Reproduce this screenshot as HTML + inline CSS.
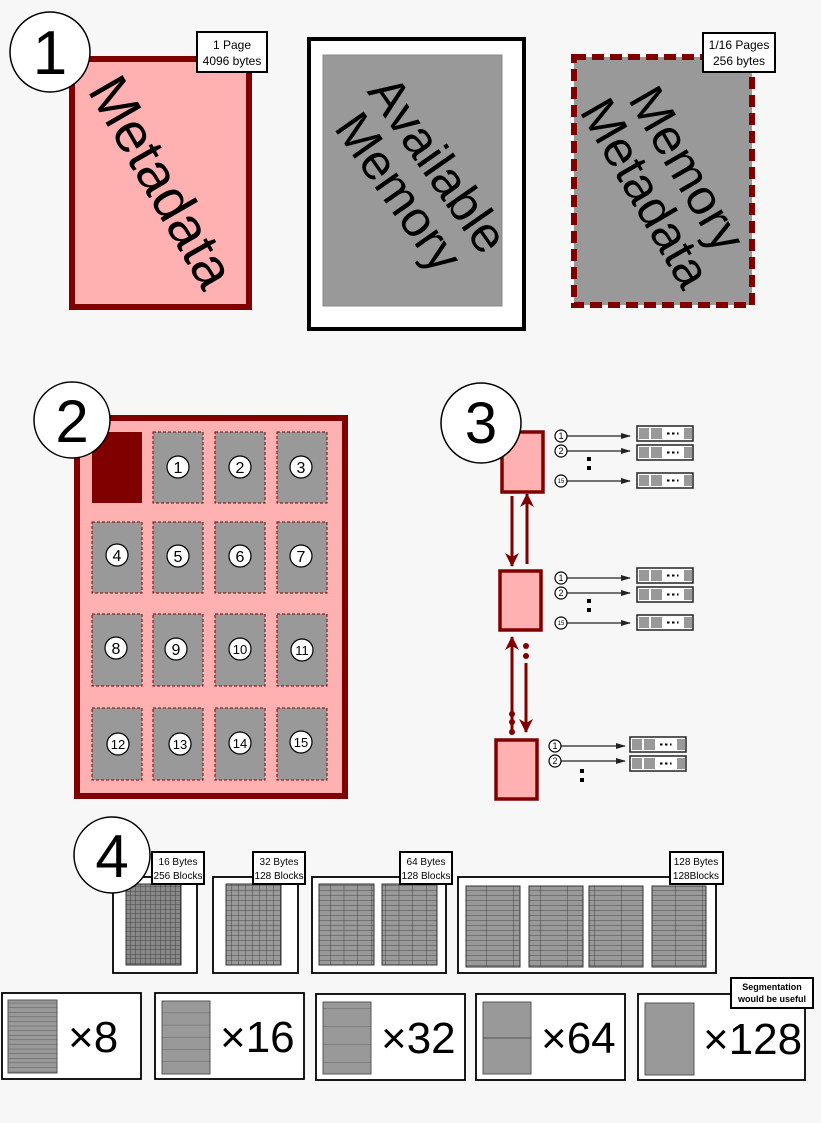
<!DOCTYPE html>
<html><head><meta charset="utf-8"><style>
html,body{margin:0;padding:0;background:#f7f7f7;}
svg{display:block;font-family:"Liberation Sans","DejaVu Sans",sans-serif;}
</style></head><body>
<svg width="821" height="1123" viewBox="0 0 821 1123" xmlns="http://www.w3.org/2000/svg">
<defs>
<pattern id="g16" width="5" height="4.5" patternUnits="userSpaceOnUse"><rect width="5" height="4.5" fill="#888"/><path d="M0 0H5M0 0V4.5" stroke="#333" stroke-width="0.8"/></pattern>
<pattern id="g32" width="7" height="5" patternUnits="userSpaceOnUse"><rect width="7" height="5" fill="#999"/><path d="M0 0H7M0 0V5" stroke="#333" stroke-width="0.8"/></pattern>
<pattern id="g64" width="13.75" height="5" patternUnits="userSpaceOnUse"><rect width="13.75" height="5" fill="#999"/><path d="M0 0H14M0 0V5" stroke="#333" stroke-width="0.8"/></pattern>
<pattern id="g128" width="27" height="5" patternUnits="userSpaceOnUse"><rect width="27" height="5" fill="#999"/><path d="M0 0H27M0 0V5" stroke="#333" stroke-width="0.8"/></pattern>
<pattern id="h8" width="49" height="4.6" patternUnits="userSpaceOnUse"><rect width="49" height="4.6" fill="#999"/><path d="M0 0H49" stroke="#555" stroke-width="1"/></pattern>
<pattern id="h16" width="48" height="12.2" patternUnits="userSpaceOnUse"><rect width="48" height="12.2" fill="#999"/><path d="M0 0H48" stroke="#666" stroke-width="1"/></pattern>
<pattern id="h32" width="48" height="18" patternUnits="userSpaceOnUse"><rect width="48" height="18" fill="#999"/><path d="M0 0H48" stroke="#666" stroke-width="1"/></pattern>
<marker id="ar" markerWidth="10" markerHeight="6" refX="9" refY="3" orient="auto" markerUnits="userSpaceOnUse"><path d="M0 0L10 3L0 6z" fill="#222"/></marker>
<marker id="rd" markerWidth="14" markerHeight="22" refX="13" refY="7" orient="auto" markerUnits="userSpaceOnUse"><path d="M0 0L14 7L0 14L4 7z" fill="#800000"/></marker>
<g id="bar"><rect x="0" y="0" width="56" height="15" fill="#fff" stroke="#222" stroke-width="1.5"/><rect x="2" y="2" width="10" height="11" fill="#999"/><rect x="14" y="2" width="11" height="11" fill="#999"/><rect x="47" y="2" width="8" height="11" fill="#999"/><rect x="30" y="6.5" width="2.5" height="2" fill="#000"/><rect x="35" y="6.5" width="2.5" height="2" fill="#000"/><rect x="40" y="6.5" width="1.5" height="2" fill="#000"/></g>
</defs>

<!-- Section 1 -->
<rect x="72" y="59" width="177" height="248" fill="#ffb0b0" stroke="#800000" stroke-width="6"/>
<text x="160" y="200" font-size="56" text-anchor="middle" transform="rotate(60 160 183)">Metadata</text>
<circle cx="50" cy="52" r="40" fill="#fff" stroke="#000" stroke-width="1.5"/>
<text x="50" y="74" font-size="62" text-anchor="middle">1</text>
<rect x="197" y="32" width="70" height="40" fill="#fff" stroke="#000" stroke-width="2"/>
<text x="232" y="49" font-size="12" text-anchor="middle">1 Page</text>
<text x="232" y="65" font-size="12" text-anchor="middle">4096 bytes</text>

<rect x="309" y="39" width="215" height="290" fill="#fff" stroke="#000" stroke-width="4"/>
<rect x="323" y="55" width="179" height="251" fill="#999" stroke="#888"/>
<g transform="rotate(55 416 180)" font-size="50" text-anchor="middle">
<text x="416" y="170">Available</text><text x="416" y="218">Memory</text></g>

<rect x="574" y="57" width="178" height="248" fill="#999" stroke="#800000" stroke-width="6" stroke-dasharray="12,6"/>
<g transform="rotate(60 663 183)" font-size="50" text-anchor="middle">
<text x="663" y="172">Memory</text><text x="663" y="220">Metadata</text></g>
<rect x="703" y="33" width="72" height="39" fill="#fff" stroke="#000" stroke-width="2"/>
<text x="739" y="49" font-size="12" text-anchor="middle">1/16 Pages</text>
<text x="739" y="65" font-size="12" text-anchor="middle">256 bytes</text>

<!-- Section 2 -->
<rect x="77" y="418" width="268" height="378" fill="#ffb0b0" stroke="#800000" stroke-width="6"/>
<rect x="92" y="432" width="50" height="71" fill="#800000"/>
<g fill="#999" stroke="#800000" stroke-width="1" stroke-dasharray="3,2">
<rect x="153" y="432" width="50" height="71"/><rect x="215" y="432" width="50" height="71"/><rect x="277" y="432" width="50" height="71"/>
<rect x="92" y="522" width="50" height="71"/><rect x="153" y="522" width="50" height="71"/><rect x="215" y="522" width="50" height="71"/><rect x="277" y="522" width="50" height="71"/>
<rect x="92" y="614" width="50" height="72"/><rect x="153" y="614" width="50" height="72"/><rect x="215" y="614" width="50" height="72"/><rect x="277" y="614" width="50" height="72"/>
<rect x="92" y="708" width="50" height="72"/><rect x="153" y="708" width="50" height="72"/><rect x="215" y="708" width="50" height="72"/><rect x="277" y="708" width="50" height="72"/>
</g>
<g fill="#fff" stroke="#000" stroke-width="1.2">
<circle cx="178" cy="467" r="11"/><circle cx="240" cy="467" r="11"/><circle cx="301" cy="467" r="11"/>
<circle cx="117" cy="555" r="11"/><circle cx="178" cy="556" r="11"/><circle cx="240" cy="556" r="11"/><circle cx="301" cy="556" r="11"/>
<circle cx="116" cy="648" r="11"/><circle cx="176" cy="649" r="11"/><circle cx="240" cy="649" r="11"/><circle cx="302" cy="650" r="11"/>
<circle cx="118" cy="744" r="11"/><circle cx="180" cy="744" r="11"/><circle cx="240" cy="743" r="11"/><circle cx="301" cy="742" r="11"/>
</g>
<g font-size="16" text-anchor="middle">
<text x="178" y="473">1</text><text x="240" y="473">2</text><text x="301" y="473">3</text>
<text x="117" y="561">4</text><text x="178" y="562">5</text><text x="240" y="562">6</text><text x="301" y="562">7</text>
<text x="116" y="654">8</text><text x="176" y="655">9</text>
<text x="240" y="654" font-size="13">10</text><text x="302" y="655" font-size="13">11</text>
<text x="118" y="749" font-size="13">12</text><text x="180" y="749" font-size="13">13</text><text x="240" y="748" font-size="13">14</text><text x="301" y="747" font-size="13">15</text>
</g>
<circle cx="72" cy="420" r="38" fill="#fff" stroke="#000" stroke-width="1.5"/>
<text x="72" y="442" font-size="60" text-anchor="middle">2</text>

<!-- Section 3 -->
<rect x="502" y="432" width="41" height="60" fill="#ffb0b0" stroke="#800000" stroke-width="3.5"/>
<rect x="500" y="571" width="41" height="59" fill="#ffb0b0" stroke="#800000" stroke-width="3.5"/>
<rect x="496" y="740" width="41" height="59" fill="#ffb0b0" stroke="#800000" stroke-width="3.5"/>
<circle cx="481" cy="423" r="40" fill="#fff" stroke="#000" stroke-width="1.5"/>
<text x="481" y="443" font-size="58" text-anchor="middle">3</text>
<g stroke="#800000" stroke-width="3" fill="none">
<line x1="512" y1="496" x2="512" y2="566" marker-end="url(#rd)"/>
<line x1="527" y1="564" x2="527" y2="494" marker-end="url(#rd)"/>
<line x1="512" y1="730" x2="512" y2="637" marker-end="url(#rd)"/>
<line x1="526" y1="663" x2="526" y2="732" marker-end="url(#rd)"/>
</g>
<g fill="#800000"><circle cx="526" cy="646" r="3"/><circle cx="526" cy="656" r="3"/><circle cx="512" cy="714" r="3"/><circle cx="512" cy="722" r="3"/><circle cx="512" cy="732" r="3"/></g>
<g stroke="#222" stroke-width="1.3" marker-end="url(#ar)">
<line x1="567" y1="436" x2="630" y2="436"/><line x1="567" y1="451" x2="630" y2="451"/><line x1="567" y1="481" x2="630" y2="481"/>
<line x1="567" y1="578" x2="630" y2="578"/><line x1="567" y1="593" x2="630" y2="593"/><line x1="567" y1="623" x2="630" y2="623"/>
<line x1="561" y1="746" x2="625" y2="746"/><line x1="561" y1="761" x2="625" y2="761"/>
</g>
<g fill="#fff" stroke="#000" stroke-width="1.2">
<circle cx="561" cy="436" r="6"/><circle cx="561" cy="451" r="6"/><circle cx="561" cy="481" r="6"/>
<circle cx="561" cy="578" r="6"/><circle cx="561" cy="593" r="6"/><circle cx="561" cy="623" r="6"/>
<circle cx="555" cy="746" r="6"/><circle cx="555" cy="761" r="6"/>
</g>
<g font-size="9" text-anchor="middle">
<text x="561" y="439">1</text><text x="561" y="454">2</text><text x="561" y="483" font-size="6">15</text>
<text x="561" y="581">1</text><text x="561" y="596">2</text><text x="561" y="625" font-size="6">15</text>
<text x="555" y="749">1</text><text x="555" y="764">2</text>
</g>
<g fill="#000"><rect x="587" y="457" width="4" height="4"/><rect x="587" y="466" width="4" height="4"/>
<rect x="587" y="599" width="4" height="4"/><rect x="587" y="608" width="4" height="4"/>
<rect x="580" y="769" width="4" height="4"/><rect x="580" y="778" width="4" height="4"/></g>
<use href="#bar" x="637" y="426"/><use href="#bar" x="637" y="445"/><use href="#bar" x="637" y="473"/>
<use href="#bar" x="637" y="568"/><use href="#bar" x="637" y="587"/><use href="#bar" x="637" y="615"/>
<use href="#bar" x="630" y="737"/><use href="#bar" x="630" y="756"/>

<!-- Section 4 -->
<g fill="#fff" stroke="#000" stroke-width="1.8">
<rect x="113" y="877" width="84" height="96"/><rect x="213" y="877" width="85" height="96"/>
<rect x="312" y="877" width="134" height="96"/><rect x="458" y="877" width="258" height="96"/>
</g>
<g stroke="#333" stroke-width="1">
<rect x="126" y="884" width="55" height="81" fill="url(#g16)"/>
<rect x="226" y="884" width="55" height="81" fill="url(#g32)"/>
<rect x="319" y="884" width="55" height="81" fill="url(#g64)"/><rect x="382" y="884" width="55" height="81" fill="url(#g64)"/>
<rect x="466" y="886" width="54" height="81" fill="url(#g128)"/><rect x="529" y="886" width="54" height="81" fill="url(#g128)"/>
<rect x="589" y="886" width="54" height="81" fill="url(#g128)"/><rect x="652" y="886" width="54" height="81" fill="url(#g128)"/>
</g>
<circle cx="112" cy="855" r="38" fill="#fff" stroke="#000" stroke-width="1.5"/>
<text x="112" y="877" font-size="60" text-anchor="middle">4</text>
<g fill="#fff" stroke="#000" stroke-width="2">
<rect x="152" y="852" width="52" height="32"/><rect x="253" y="852" width="52" height="32"/>
<rect x="400" y="852" width="52" height="32"/><rect x="670" y="852" width="53" height="32"/>
</g>
<g font-size="10" text-anchor="middle">
<text x="178" y="865">16 Bytes</text><text x="178" y="879">256 Blocks</text>
<text x="279" y="865">32 Bytes</text><text x="279" y="879">128 Blocks</text>
<text x="426" y="865">64 Bytes</text><text x="426" y="879">128 Blocks</text>
<text x="696" y="865">128 Bytes</text><text x="696" y="879">128Blocks</text>
</g>

<g fill="#fff" stroke="#000" stroke-width="1.8">
<rect x="2" y="993" width="139" height="86"/><rect x="155" y="993" width="149" height="86"/>
<rect x="316" y="994" width="149" height="86"/><rect x="476" y="994" width="149" height="86"/>
<rect x="638" y="994" width="167" height="86"/>
</g>
<g stroke="#555" stroke-width="1">
<rect x="8" y="1000" width="49" height="73" fill="url(#h8)"/>
<rect x="162" y="1001" width="48" height="73" fill="url(#h16)"/>
<rect x="323" y="1002" width="48" height="72" fill="url(#h32)"/>
<rect x="483" y="1002" width="48" height="72" fill="#999"/><line x1="483" y1="1038" x2="531" y2="1038"/>
<rect x="645" y="1003" width="49" height="72" fill="#999"/>
</g>
<g font-size="44" fill="#000">
<text x="68" y="1052">×8</text><text x="220" y="1052">×16</text><text x="381" y="1053">×32</text>
<text x="541" y="1053">×64</text><text x="703" y="1054">×128</text>
</g>
<rect x="731" y="978" width="82" height="30" fill="#fff" stroke="#000" stroke-width="2"/>
<text x="772" y="990" font-size="9" font-weight="bold" text-anchor="middle">Segmentation</text>
<text x="772" y="1002" font-size="9" font-weight="bold" text-anchor="middle">would be useful</text>
</svg>
</body></html>
